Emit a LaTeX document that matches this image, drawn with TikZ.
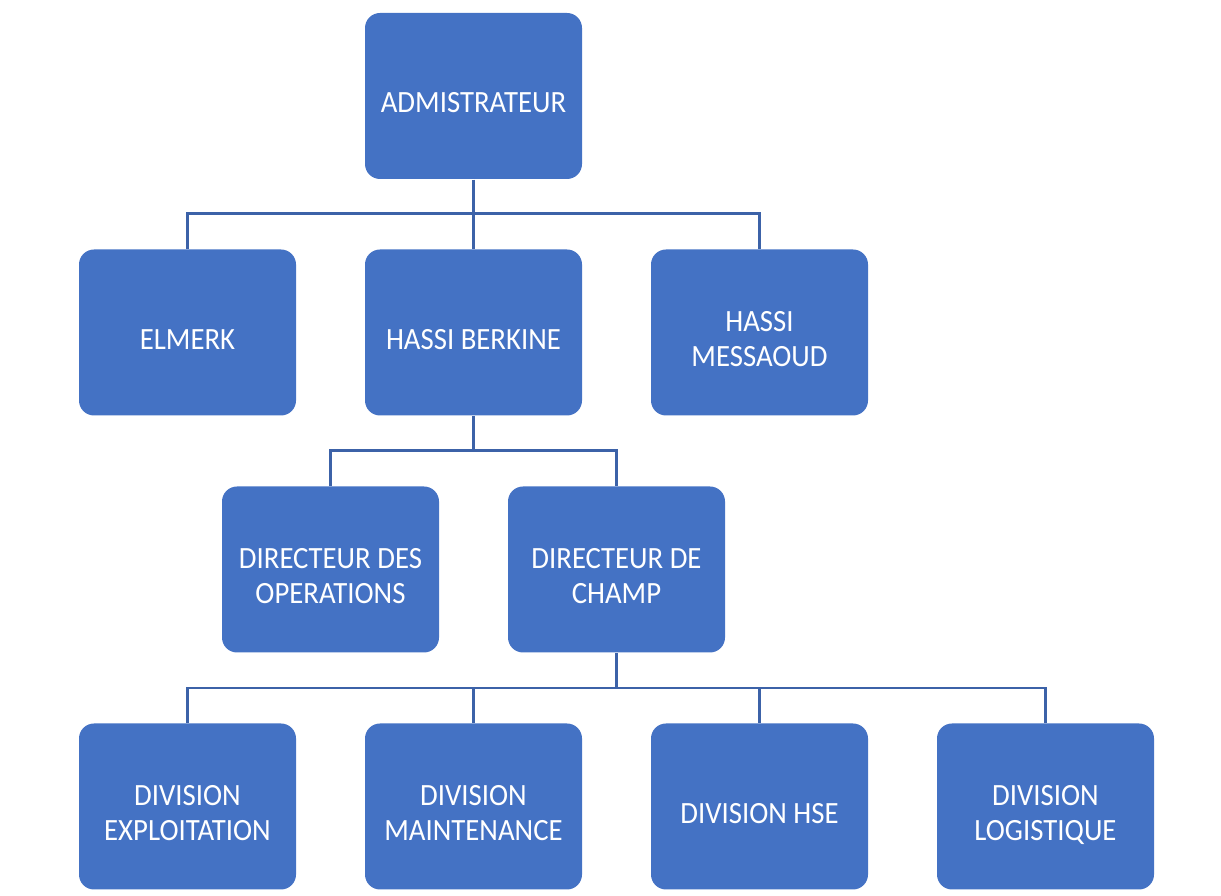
\documentclass[tikz,border=0pt]{standalone}
\usepackage{fontspec}
\setmainfont{Carlito}[FakeStretch=0.93]
\usepackage{tikz}
\usetikzlibrary{positioning}
\definecolor{boxblue}{HTML}{4472C4}
\definecolor{linkblue}{HTML}{3C62A8}

\begin{document}
\begin{tikzpicture}[box/.style={draw=none, fill=boxblue, rounded corners=0.15cm,
				minimum width=2.17cm, minimum height=1.66cm, inner sep=0pt,
				text=white, align=center, font=\fontsize{8.8}{10}\selectfont,
				text height=9.6pt, text depth=0pt},
				twoline/.style={box, text height=19.5pt},
				link/.style={draw=linkblue, line width=0.85pt}]
				
				\useasboundingbox (0,0) rectangle (12.21,-8.96);
				
				% top level
				\node[box] (admin) at (4.735,-0.96) {ADMISTRATEUR};
				
				% sites
				\node[box] (elmerk) at (1.875,-3.325) {ELMERK};
				\node[box] (berkine) at (4.735,-3.325) {HASSI BERKINE};
				\node[twoline] (messaoud) at (7.595,-3.325) {HASSI\\MESSAOUD};
				
				% directeurs
				\node[twoline] (operations) at (3.305,-5.695) {DIRECTEUR DES\\OPERATIONS};
				\node[twoline] (champ) at (6.165,-5.695) {DIRECTEUR DE\\CHAMP};
				
				% divisions
				\node[twoline] (exploit) at (1.875,-8.065) {DIVISION\\EXPLOITATION};
				\node[twoline] (maint) at (4.735,-8.065) {DIVISION\\MAINTENANCE};
				\node[box] (hse) at (7.595,-8.065) {DIVISION HSE};
				\node[twoline] (logist) at (10.455,-8.065) {DIVISION\\LOGISTIQUE};
				
				\coordinate (bus1) at (4.735,-2.14);
				\coordinate (bus2) at (4.735,-4.51);
				\coordinate (bus3) at (6.165,-6.88);
				
				\draw[link] (admin.south) -- (bus1);
				\draw[link] (elmerk.north) |- (bus1) -| (messaoud.north);
				\draw[link] (berkine.north) -- (bus1);
				
				\draw[link] (berkine.south) -- (bus2);
				\draw[link] (operations.north) |- (bus2) -| (champ.north);
				
				\draw[link] (champ.south) -- (bus3);
				\draw[link] (exploit.north) |- (bus3) -| (logist.north);
				\draw[link] (maint.north) -- (maint.north |- bus3);
				\draw[link] (hse.north) -- (hse.north |- bus3);
			\end{tikzpicture}
\end{document}
